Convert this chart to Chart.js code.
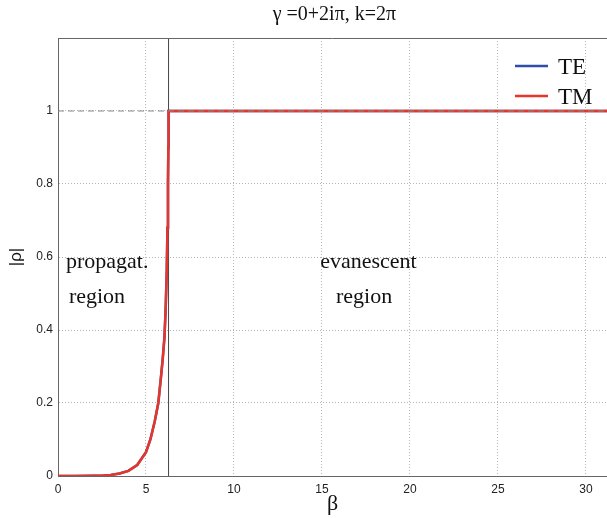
<!DOCTYPE html>
<html>
<head>
<meta charset="utf-8">
<script src="https://cdn.jsdelivr.net/npm/chart.js@4/dist/chart.umd.min.js"></script>
<style>
  html, body { margin: 0; padding: 0; background: #fff; }
  #wrap { width: 607px; height: 518px; }
</style>
</head>
<body>
<div id="wrap"><canvas id="chart"></canvas></div>
<script>
// Reflection magnitude |rho| against beta, for gamma = 2i*pi, k = 2pi.
var betaValues = [0, 1, 2, 2.5, 3, 3.5, 4, 4.5, 5, 5.25, 5.5, 5.7, 5.85, 5.95,
                  6.05, 6.12, 6.18, 6.22, 6.25, 6.27, 6.2832, 10, 15, 20, 25, 31.4];
var rhoTE = [0, 0, 0.0005, 0.001, 0.003, 0.007, 0.014, 0.03, 0.065, 0.1, 0.15, 0.2, 0.27, 0.32,
             0.38, 0.46, 0.56, 0.68, 0.8, 0.9, 1, 1, 1, 1, 1, 1];
var rhoTM = [0, 0, 0.0005, 0.001, 0.003, 0.007, 0.014, 0.03, 0.065, 0.1, 0.15, 0.2, 0.27, 0.32,
             0.38, 0.46, 0.56, 0.68, 0.8, 0.9, 1, 1, 1, 1, 1, 1];
var cutoff = 6.2832;          // beta = k
var unitLevel = 1;            // |rho| = 1 reference
var xTicks = [0, 5, 10, 15, 20, 25, 30];
var yTicks = [0, 0.2, 0.4, 0.6, 0.8, 1];
var xMax = 31.2, yMax = 1.2;
var regionLabels = [
  { text: 'propagat.', x: 0.45, y: 0.585 },
  { text: 'region',    x: 0.62, y: 0.49 },
  { text: 'evanescent', x: 14.9, y: 0.585 },
  { text: 'region',    x: 15.8, y: 0.49 }
];

function pairs(xs, ys) {
  return xs.map(function(x, i) { return { x: x, y: ys[i] }; });
}

var SERIF = '"Liberation Serif", "DejaVu Serif", serif';
var SANS = '"Liberation Sans", Arial, sans-serif';

// Title, legend, region text and the top frame line.
var extras = {
  id: 'extras',
  afterDatasetsDraw: function(chart) {
    var ctx = chart.ctx, a = chart.chartArea;
    var xs = chart.scales.x, ys = chart.scales.y;
    ctx.save();
    ctx.strokeStyle = '#666';
    ctx.lineWidth = 1;
    ctx.beginPath();
    ctx.moveTo(a.left, a.top + 0.5);
    ctx.lineTo(a.right, a.top + 0.5);
    ctx.stroke();

    ctx.fillStyle = '#111';
    ctx.textBaseline = 'middle';
    ctx.textAlign = 'center';
    ctx.font = '20px ' + SERIF;
    ctx.fillText('\u03b3 =0+2i\u03c0, k=2\u03c0', (xs.getPixelForValue(0) + xs.getPixelForValue(10 * Math.PI)) / 2, 15);

    ctx.textAlign = 'left';
    ctx.font = '22px ' + SERIF;
    regionLabels.forEach(function(r) {
      ctx.fillText(r.text, xs.getPixelForValue(r.x), ys.getPixelForValue(r.y));
    });

    // legend
    var items = chart.data.datasets.filter(function(d) { return d.inLegend; });
    ctx.font = '23px ' + SERIF;
    items.forEach(function(d, i) {
      var y = 66 + i * 30;
      ctx.strokeStyle = d.borderColor;
      ctx.lineWidth = 2.5;
      ctx.beginPath();
      ctx.moveTo(515, y);
      ctx.lineTo(548, y);
      ctx.stroke();
      ctx.fillStyle = '#111';
      ctx.fillText(d.label, 558, y + 2);
    });
    ctx.restore();
  }
};

function tickText(v) { return String(Math.round(v * 10) / 10); }

new Chart(document.getElementById('chart'), {
  type: 'line',
  data: {
    datasets: [
      { label: 'TE', inLegend: true, data: pairs(betaValues, rhoTE), borderColor: '#2f4ea6',
        borderWidth: 2.5, pointRadius: 0, order: 2 },
      { label: 'TM', inLegend: true, data: pairs(betaValues, rhoTM), borderColor: '#e8352a',
        borderWidth: 2.5, pointRadius: 0, order: 1 },
      { label: 'unit', data: [{ x: 0, y: unitLevel }, { x: xMax, y: unitLevel }], borderColor: '#8a8a8a',
        borderWidth: 1.2, borderDash: [6, 4], pointRadius: 0, order: 0 },
      { label: 'cutoff', data: [{ x: cutoff, y: 0 }, { x: cutoff, y: yMax }], borderColor: '#444',
        borderWidth: 1, pointRadius: 0, order: 3 }
    ]
  },
  options: {
    responsive: true,
    maintainAspectRatio: false,
    animation: false,
    layout: { padding: { top: 38, right: 0, left: 0, bottom: 0 } },
    plugins: { legend: { display: false }, title: { display: false }, tooltip: { enabled: false } },
    scales: {
      x: {
        type: 'linear', min: 0, max: xMax,
        afterBuildTicks: function(s) { s.ticks = xTicks.map(function(v) { return { value: v }; }); },
        afterFit: function(s) { s.height = 42; },
        ticks: { font: { family: SANS, size: 12 }, color: '#222', padding: 6, callback: tickText },
        grid: { color: '#b5b5b5', lineWidth: 1, drawTicks: false },
        border: { color: '#666', width: 1, dash: [1, 2] },
        title: { display: true, text: '\u03b2', font: { family: SERIF, size: 22 }, color: '#111',
                 padding: { top: 0, bottom: 1 } }
      },
      y: {
        type: 'linear', min: 0, max: yMax,
        afterBuildTicks: function(s) { s.ticks = yTicks.map(function(v) { return { value: v }; }); },
        afterFit: function(s) { s.width = 58; },
        ticks: { font: { family: SANS, size: 12 }, color: '#222', padding: 5, callback: tickText },
        grid: { color: '#b5b5b5', lineWidth: 1, drawTicks: false },
        border: { color: '#666', width: 1, dash: [1, 2] },
        title: { display: true, text: '|\u03c1|', font: { family: SANS, size: 17 }, color: '#111',
                 padding: { top: 6, bottom: 0 } }
      }
    }
  },
  plugins: [extras]
});
</script>
</body>
</html>
